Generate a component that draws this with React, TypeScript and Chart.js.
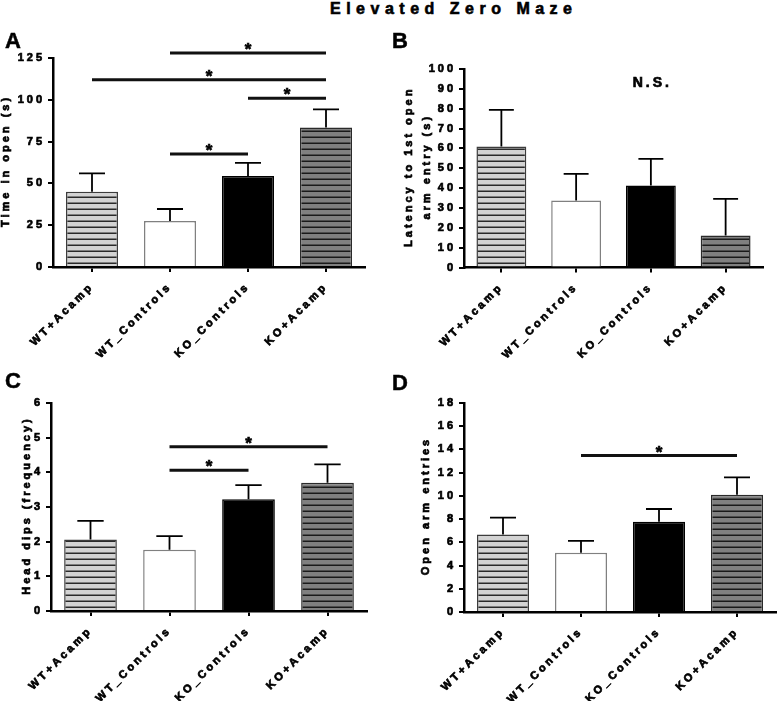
import React, { useEffect, useRef } from "react";
import { Chart, registerables } from "chart.js";

Chart.register(...registerables);

// ---------- data ----------
const categories = ["WT+Acamp", "WT_Controls", "KO_Controls", "KO+Acamp"];

const timeOpenMeans = [45, 27.5, 54.5, 83.5];
const timeOpenSem = [11, 7.2, 7.8, 10.8];
const timeOpenTicks = [0, 25, 50, 75, 100, 125];
// [from category, to category, bracket height]
const timeOpenSig: [number, number, number][] = [
  [1, 3, 128],
  [0, 3, 112],
  [2, 3, 101],
  [1, 2, 67.6],
];

const latencyMeans = [61, 33.7, 41.3, 16.1];
const latencySem = [18.4, 13.5, 13.4, 18.5];
const latencyTicks = [0, 10, 20, 30, 40, 50, 60, 70, 80, 90, 100];
const latencySig: [number, number, number][] = [];
const latencyNote = { index: 2, value: 93, text: "N.S." };

const headDipsMeans = [2.06, 1.77, 3.22, 3.7];
const headDipsSem = [0.54, 0.39, 0.41, 0.53];
const headDipsTicks = [0, 1, 2, 3, 4, 5, 6];
const headDipsSig: [number, number, number][] = [
  [1, 3, 4.74],
  [1, 2, 4.06],
];

const entriesMeans = [6.68, 5.1, 7.77, 10.1];
const entriesSem = [1.44, 1.03, 1.1, 1.5];
const entriesTicks = [0, 2, 4, 6, 8, 10, 12, 14, 16, 18];
const entriesSig: [number, number, number][] = [[1, 3, 13.47]];

const mainTitle = "Elevated Zero Maze";

// ---------- styling ----------
const FONT = "Arial, 'Liberation Sans', sans-serif";
const STROKE = 0.7;

type Panel = {
  letter: string;
  letterPos: [number, number];
  left: number;
  top: number;
  width: number;
  height: number;
  yW: number;
  padTop: number;
  padRight: number;
  xH: number;
  means: number[];
  sem: number[];
  ticks: number[];
  sig: [number, number, number][];
  note?: { index: number; value: number; text: string };
  titleLines: string[];
  titleXs: number[];
};

const panels: Panel[] = [
  {
    letter: "A",
    letterPos: [5, 27.5],
    left: 0,
    top: 0,
    width: 389,
    height: 368,
    yW: 53,
    padTop: 58,
    padRight: 24,
    xH: 101,
    means: timeOpenMeans,
    sem: timeOpenSem,
    ticks: timeOpenTicks,
    sig: timeOpenSig,
    titleLines: ["Time in open (s)"],
    titleXs: [6],
  },
  {
    letter: "B",
    letterPos: [392, 27.5],
    left: 389,
    top: 0,
    width: 389,
    height: 368,
    yW: 75,
    padTop: 69,
    padRight: 15,
    xH: 100.5,
    means: latencyMeans,
    sem: latencySem,
    ticks: latencyTicks,
    sig: latencySig,
    note: latencyNote,
    titleLines: ["Latency to 1st open", "arm entry (s)"],
    titleXs: [19.5, 38],
  },
  {
    letter: "C",
    letterPos: [5, 367.5],
    left: 0,
    top: 350,
    width: 389,
    height: 351,
    yW: 51,
    padTop: 53,
    padRight: 22,
    xH: 90,
    means: headDipsMeans,
    sem: headDipsSem,
    ticks: headDipsTicks,
    sig: headDipsSig,
    titleLines: ["Head dips (frequency)"],
    titleXs: [27],
  },
  {
    letter: "D",
    letterPos: [392, 369.5],
    left: 389,
    top: 350,
    width: 389,
    height: 351,
    yW: 75,
    padTop: 53,
    padRight: 2,
    xH: 89,
    means: entriesMeans,
    sem: entriesSem,
    ticks: entriesTicks,
    sig: entriesSig,
    titleLines: ["Open arm entries"],
    titleXs: [37],
  },
];

function stripePattern(bg: string, line: string): CanvasPattern | string {
  const c = document.createElement("canvas");
  c.width = 8;
  c.height = 6;
  const g = c.getContext("2d");
  if (!g) return bg;
  g.fillStyle = bg;
  g.fillRect(0, 0, 8, 6);
  g.fillStyle = line;
  g.fillRect(0, 4.5, 8, 1.5);
  const p = g.createPattern(c, "repeat");
  return p || bg;
}

function heavyText(ctx: CanvasRenderingContext2D, t: string, x: number, y: number) {
  ctx.fillText(t, x, y);
  ctx.lineWidth = STROKE;
  ctx.strokeStyle = "#000";
  ctx.strokeText(t, x, y);
}

function makeChart(canvas: HTMLCanvasElement, p: Panel, fills: any[]) {
  const borders = ["#3c3c3c", "#808080", "#000000", "#2a2a2a"];

  const spacing = {
    id: "spacing",
    beforeLayout(chart: any) {
      chart.ctx.letterSpacing = "3px";
    },
    beforeDraw(chart: any) {
      chart.ctx.letterSpacing = "3px";
    },
  };

  const errorBars = {
    id: "errorBars",
    afterDatasetsDraw(chart: any) {
      const ctx = chart.ctx;
      const meta = chart.getDatasetMeta(0);
      const ys = chart.scales.y;
      ctx.save();
      ctx.strokeStyle = "#000";
      ctx.lineWidth = 1.8;
      meta.data.forEach((bar: any, i: number) => {
        const { x, y, width } = bar.getProps(["x", "y", "width"], true);
        const yt = ys.getPixelForValue(p.means[i] + p.sem[i]);
        ctx.beginPath();
        ctx.moveTo(x, y);
        ctx.lineTo(x, yt);
        ctx.moveTo(x - width / 4, yt);
        ctx.lineTo(x + width / 4, yt);
        ctx.stroke();
      });
      ctx.restore();
    },
  };

  const annotations = {
    id: "annotations",
    afterDraw(chart: any) {
      const ctx = chart.ctx;
      const xs = chart.scales.x;
      const ys = chart.scales.y;
      const area = chart.chartArea;
      ctx.save();
      p.sig.forEach(([i, j, v]) => {
        const x1 = xs.getPixelForValue(i);
        const x2 = xs.getPixelForValue(j);
        const yy = ys.getPixelForValue(v);
        ctx.strokeStyle = "#111";
        ctx.lineWidth = 3;
        ctx.beginPath();
        ctx.moveTo(x1, yy);
        ctx.lineTo(x2, yy);
        ctx.stroke();
        ctx.letterSpacing = "0px";
        ctx.fillStyle = "#000";
        ctx.font = `bold 17px ${FONT}`;
        ctx.textAlign = "center";
        ctx.textBaseline = "alphabetic";
        heavyText(ctx, "*", (x1 + x2) / 2, yy + 2);
      });
      if (p.note) {
        ctx.letterSpacing = "3px";
        ctx.fillStyle = "#000";
        ctx.font = `bold 14px ${FONT}`;
        ctx.textAlign = "center";
        ctx.textBaseline = "middle";
        heavyText(ctx, p.note.text, xs.getPixelForValue(p.note.index) + 1.5, ys.getPixelForValue(p.note.value));
      }
      ctx.letterSpacing = "3px";
      ctx.fillStyle = "#000";
      ctx.font = `bold 11px ${FONT}`;
      ctx.textAlign = "center";
      ctx.textBaseline = "middle";
      const cy = (area.top + area.bottom) / 2;
      p.titleLines.forEach((t, k) => {
        ctx.save();
        ctx.translate(p.titleXs[k], cy);
        ctx.rotate(-Math.PI / 2);
        heavyText(ctx, t, 1.5, 0);
        ctx.restore();
      });
      ctx.restore();
    },
  };

  return new Chart(canvas, {
    type: "bar",
    data: {
      labels: categories,
      datasets: [
        {
          data: p.means,
          backgroundColor: fills,
          borderColor: borders,
          borderWidth: 1.5,
          barPercentage: 0.667,
          categoryPercentage: 1,
        },
      ],
    },
    options: {
      responsive: false,
      animation: false,
      maintainAspectRatio: false,
      layout: { padding: { left: 0, top: p.padTop, right: p.padRight, bottom: 0 } },
      plugins: { legend: { display: false }, tooltip: { enabled: false }, title: { display: false } },
      scales: {
        x: {
          afterFit: (s: any) => {
            s.height = p.xH;
          },
          grid: {
            display: true,
            drawOnChartArea: false,
            drawTicks: true,
            tickLength: 5,
            lineWidth: 2,
            color: "#000",
            offset: false,
          },
          border: { display: true, width: 2.5, color: "#000" },
          ticks: {
            color: "#000",
            font: { family: FONT, size: 11, weight: "bold" },
            textStrokeColor: "#000",
            textStrokeWidth: STROKE,
            maxRotation: 45,
            minRotation: 45,
            autoSkip: false,
            padding: 8,
          },
        },
        y: {
          min: p.ticks[0],
          max: p.ticks[p.ticks.length - 1],
          afterBuildTicks: (s: any) => {
            s.ticks = p.ticks.map((v) => ({ value: v }));
          },
          afterFit: (s: any) => {
            s.width = p.yW;
          },
          grid: {
            display: true,
            drawOnChartArea: false,
            drawTicks: true,
            tickLength: 5,
            lineWidth: 2,
            color: "#000",
          },
          border: { display: true, width: 2.5, color: "#000" },
          ticks: {
            color: "#000",
            font: { family: FONT, size: 11, weight: "bold" },
            textStrokeColor: "#000",
            textStrokeWidth: STROKE,
            padding: 3,
          },
        },
      },
    } as any,
    plugins: [spacing, errorBars, annotations],
  });
}

export default function App() {
  const refs = [
    useRef<HTMLCanvasElement>(null),
    useRef<HTMLCanvasElement>(null),
    useRef<HTMLCanvasElement>(null),
    useRef<HTMLCanvasElement>(null),
  ];

  useEffect(() => {
    const fills = [
      stripePattern("#d3d3d3", "#2a2a2a"),
      "#ffffff",
      "#000000",
      stripePattern("#808080", "#1a1a1a"),
    ];
    const charts = panels.map((p, i) => makeChart(refs[i].current as HTMLCanvasElement, p, fills));
    return () => charts.forEach((c) => c.destroy());
  }, []);

  return (
    <div
      style={{
        position: "fixed",
        left: 0,
        top: 0,
        width: 778,
        height: 701,
        background: "#fff",
        overflow: "hidden",
        fontFamily: FONT,
      }}
    >
      <div
        style={{
          position: "absolute",
          left: 330,
          top: 0,
          fontSize: 16,
          fontWeight: "bold",
          letterSpacing: "5.5px",
          whiteSpace: "nowrap",
          lineHeight: "normal",
          color: "#000",
          WebkitTextStroke: "0.6px #000",
        }}
      >
        {mainTitle}
      </div>
      {panels.map((p, i) => (
        <React.Fragment key={p.letter}>
          <canvas
            ref={refs[i]}
            width={p.width}
            height={p.height}
            style={{
              position: "absolute",
              left: p.left,
              top: p.top,
              width: p.width,
              height: p.height,
              display: "block",
            }}
          />
          <div
            style={{
              position: "absolute",
              left: p.letterPos[0],
              top: p.letterPos[1],
              fontSize: 22,
              fontWeight: "bold",
              lineHeight: "normal",
              color: "#000",
              WebkitTextStroke: "0.5px #000",
            }}
          >
            {p.letter}
          </div>
        </React.Fragment>
      ))}
    </div>
  );
}
